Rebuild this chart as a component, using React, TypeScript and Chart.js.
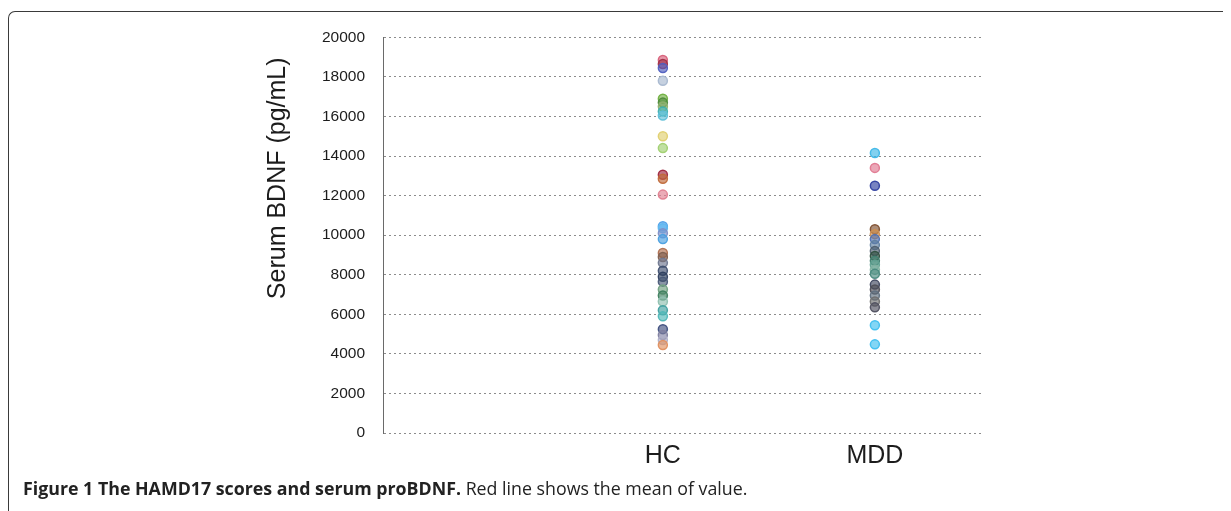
import React, { useEffect, useRef } from "react";
import { Chart, registerables } from "chart.js";

Chart.register(...registerables);

// Groups shown on the x axis
const groups = ["HC", "MDD"];

// Serum BDNF (pg/mL) per subject, healthy controls
const hcValues = [
  18850, 18650, 18450, 17800, 16900, 16700, 16500, 16250, 16050, 15000, 14400,
  13050, 12850, 12050, 10450, 10350, 10100, 9800, 9100, 8900, 8600, 8200, 7900,
  7650, 7250, 6950, 6650, 6200, 5900, 5250, 4950, 4700, 4450,
];
const hcColors = [
  "#d8607a", "#a03048", "#5060c0", "#a8b8d0", "#70b040", "#4f8a3c", "#8fb070",
  "#40b0b0", "#60c0d8", "#e0d070", "#a0d070", "#a02840", "#c06a3a", "#e08090",
  "#50a0e8", "#60b8f0", "#8090c8", "#4aa0e0", "#b07050", "#806050", "#707890",
  "#405070", "#304060", "#4a5a78", "#70a080", "#3f7f5f", "#90c0b0", "#40a0a0",
  "#50b8b8", "#405080", "#8080a0", "#b0b0c8", "#e09060",
];

// Serum BDNF (pg/mL) per subject, major depressive disorder
const mddValues = [
  14150, 13400, 12500, 10300, 10050, 9800, 9500, 9200, 8950, 8700, 8500, 8250,
  8050, 7500, 7250, 6950, 6650, 6350, 5450, 4480,
];
const mddColors = [
  "#40b8e8", "#e07890", "#3040a0", "#805030", "#d09050", "#5070b0", "#6080a0",
  "#506070", "#305040", "#408070", "#60a090", "#80b0a0", "#4a8a80", "#404860",
  "#505058", "#607080", "#707070", "#505060", "#40c0f0", "#40c0f0",
];

const yTitle = "Serum BDNF (pg/mL)";
const yMin = 0;
const yMax = 20000;
const yStep = 2000;

function withAlpha(hex: string, a: number): string {
  const n = parseInt(hex.slice(1), 16);
  return `rgba(${(n >> 16) & 255},${(n >> 8) & 255},${n & 255},${a})`;
}

const yTitlePlugin = {
  id: "yTitle",
  afterDraw(chart: any) {
    const { ctx, chartArea } = chart;
    ctx.save();
    ctx.translate(chartArea.left - 105, chartArea.top + 141);
    ctx.rotate(-Math.PI / 2);
    ctx.font = '25px "Liberation Sans", Arial, sans-serif';
    ctx.fillStyle = "#1c1c1c";
    ctx.textAlign = "center";
    ctx.textBaseline = "middle";
    ctx.fillText(yTitle, 0, 0);
    ctx.restore();
  },
};

function BdnfChart() {
  const ref = useRef<HTMLCanvasElement | null>(null);

  useEffect(() => {
    if (!ref.current) return;
    const series = [hcValues, mddValues];
    const colors = [hcColors, mddColors];
    const chart = new Chart(ref.current, {
      type: "scatter",
      data: {
        datasets: series.map((vals, gi) => ({
          label: groups[gi],
          data: vals.map((v) => ({ x: gi + 1, y: v })),
          pointRadius: 4.5,
          pointBorderWidth: 1.5,
          pointBackgroundColor: colors[gi].map((c) => withAlpha(c, 0.65)),
          pointBorderColor: colors[gi].map((c) => withAlpha(c, 0.95)),
        })),
      },
      options: {
        animation: false,
        responsive: false,
        layout: { padding: { left: 0, right: 117, top: 7, bottom: 0 } },
        plugins: {
          legend: { display: false },
          tooltip: { enabled: false },
        },
        scales: {
          x: {
            type: "linear",
            min: -0.32,
            max: 2.51,
            afterBuildTicks: (scale: any) => {
              scale.ticks = groups.map((_, i) => ({ value: i + 1 }));
            },
            afterFit: (scale: any) => {
              scale.height = 47;
            },
            ticks: {
              autoSkip: false,
              maxRotation: 0,
              padding: 0,
              color: "#1c1c1c",
              font: { family: '"Liberation Sans", Arial, sans-serif', size: 25 },
              callback: (v: any) => groups[Math.round(Number(v)) - 1] ?? "",
            },
            grid: { display: false },
            border: { display: false },
          },
          y: {
            min: yMin,
            max: yMax,
            afterFit: (scale: any) => {
              scale.width = 183;
            },
            ticks: {
              stepSize: yStep,
              padding: 18,
              color: "#1c1c1c",
              font: { family: '"Liberation Sans", Arial, sans-serif', size: 15.5 },
              callback: (v: any) => String(v),
            },
            grid: { color: "#8c8c8c", lineWidth: 1, drawTicks: false },
            border: { display: true, color: "#6a6a6a", width: 1, dash: [2, 3] },
          },
        },
      },
      plugins: [yTitlePlugin],
    });
    return () => chart.destroy();
  }, []);

  return (
    <canvas
      ref={ref}
      width={900}
      height={470}
      style={{ position: "absolute", left: 192, top: 2, width: 900, height: 470 }}
    />
  );
}

export default function App() {
  return (
    <div style={{ position: "relative", width: 1223, height: 503, background: "#fff" }}>
      <div
        style={{
          position: "absolute",
          left: 0,
          top: 3,
          width: 1223,
          height: 500,
          borderTop: "1.5px solid #3a3a3a",
          borderLeft: "1.5px solid #3a3a3a",
          borderTopLeftRadius: 7,
          boxSizing: "border-box",
        }}
      />
      <BdnfChart />
      <div
        style={{
          position: "absolute",
          left: 15,
          top: 468,
          fontFamily: '"Open Sans", "Noto Sans", sans-serif',
          fontSize: 17.8,
          color: "#222",
          whiteSpace: "nowrap",
        }}
      >
        <b>Figure 1 The HAMD17 scores and serum proBDNF.</b> Red line shows the mean of value.
      </div>
    </div>
  );
}
